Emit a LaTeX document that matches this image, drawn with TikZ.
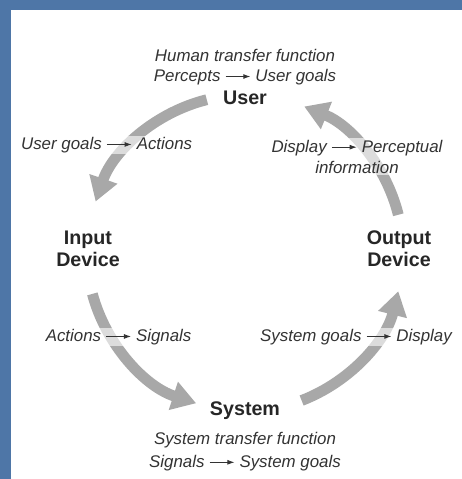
\documentclass[tikz,border=0pt]{standalone}
\usepackage{fontspec}
\setmainfont{Liberation Sans}
\usetikzlibrary{arrows.meta}
\definecolor{slideblue}{HTML}{4E76A7}
\definecolor{flowgray}{HTML}{A8A8A8}
\definecolor{inkgray}{HTML}{333333}
\newcommand{\goesto}{\tikz[baseline=-0.55ex]\draw[inkgray,line width=0.6pt,-{Latex[length=5pt,width=3.5pt]}] (0,0) -- (0.62,0);}

\begin{document}
\begin{tikzpicture}[
  flow/.style={flowgray, line width=0.27cm, -{Triangle[width=0.7cm,length=0.6cm]}},
  block/.style={font=\fontsize{14}{15.5}\selectfont\bfseries, text=black!85, align=center},
  mapping/.style={font=\fontsize{12}{15}\selectfont\itshape, text=inkgray, align=center, fill=white, fill opacity=0.6, text opacity=1, inner sep=1pt}
]
% slide frame
\fill[slideblue] (-6.125,-5.65) rectangle (5.425,6.325);
\fill[white] (-5.85,-5.65) rectangle (5.425,6.075);
\useasboundingbox (-6.125,-5.65) rectangle (5.425,6.325);

% the loop
\coordinate (user-out) at (104:3.95);
\coordinate (input-out) at (195:3.95);
\coordinate (system-out) at (291:3.95);
\coordinate (output-out) at (14:3.95);
\draw[flow] (user-out) arc[start angle=104, end angle=161, radius=3.95];
\draw[flow] (input-out) arc[start angle=195, end angle=252, radius=3.95];
\draw[flow] (system-out) arc[start angle=291, end angle=346, radius=3.95];
\draw[flow] (output-out) arc[start angle=14, end angle=68, radius=3.95];

% parts
\node[block] (user) at (0,3.875) {User};
\node[block] (input) at (-3.925,0.1) {Input\\Device};
\node[block] (output) at (3.85,0.1) {Output\\Device};
\node[block] (system) at (0,-3.95) {System};

% transfer functions
\node[mapping, font=\fontsize{12}{14.3}\selectfont\itshape] (humantf) at (0,4.65) {Human transfer function\\Percepts \goesto{} User goals};
\node[mapping] (ugact) at (-3.46,2.7) {User goals \goesto{} Actions};
\node[mapping] (disp) at (2.8,2.41) {Display \goesto{} Perceptual\\information};
\node[mapping] (actsig) at (-3.16,-2.1) {Actions \goesto{} Signals};
\node[mapping] (sysdisp) at (2.775,-2.1) {System goals \goesto{} Display};
\node[mapping, font=\fontsize{12}{16.3}\selectfont\itshape] (systf) at (0,-4.96) {System transfer function\\Signals \goesto{} System goals};
\end{tikzpicture}
\end{document}
